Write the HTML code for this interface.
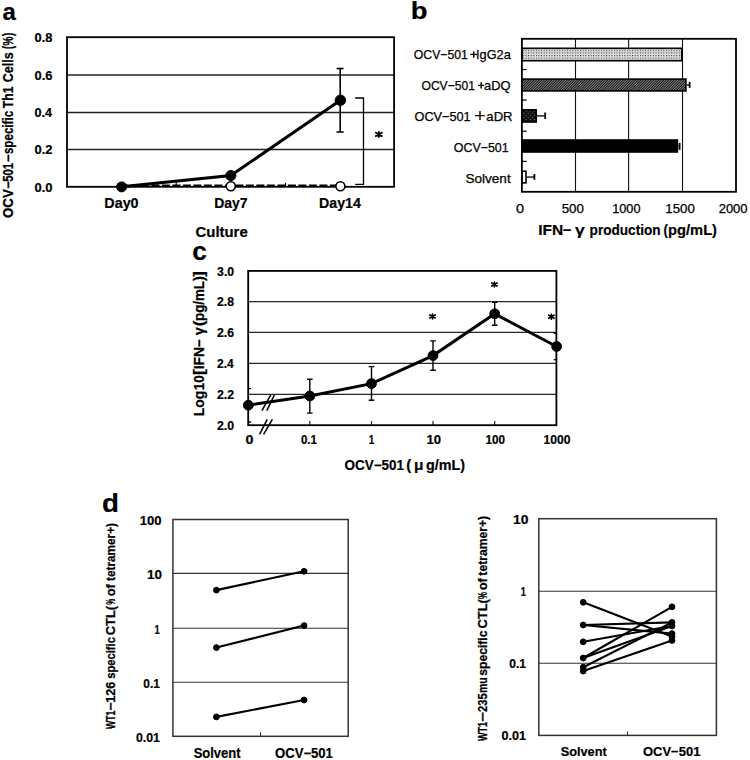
<!DOCTYPE html>
<html><head><meta charset="utf-8"><style>
html,body{margin:0;padding:0;background:#fff;}
svg{display:block;}
text{font-family:"Liberation Sans", sans-serif;fill:#000;font-kerning:none;}
</style></head><body>
<svg width="750" height="760" viewBox="0 0 750 760">
<rect width="750" height="760" fill="#fff"/>
<text x="2.50" y="19.75" font-size="24.8" font-weight="bold" textLength="13.35" lengthAdjust="spacingAndGlyphs" stroke="#000" stroke-width="0.2">a</text>
<line x1="67" y1="75.0" x2="394.1" y2="75.0" stroke="#222" stroke-width="1.4" />
<line x1="67" y1="112.5" x2="394.1" y2="112.5" stroke="#222" stroke-width="1.4" />
<line x1="67" y1="149.5" x2="394.1" y2="149.5" stroke="#222" stroke-width="1.4" />
<text x="34.49" y="41.90" font-size="12" font-weight="bold" textLength="17.91" lengthAdjust="spacingAndGlyphs" stroke="#000" stroke-width="0.2">0.8</text>
<text x="34.49" y="79.50" font-size="12" font-weight="bold" textLength="17.98" lengthAdjust="spacingAndGlyphs" stroke="#000" stroke-width="0.2">0.6</text>
<text x="34.50" y="117.00" font-size="12" font-weight="bold" textLength="17.57" lengthAdjust="spacingAndGlyphs" stroke="#000" stroke-width="0.2">0.4</text>
<text x="34.49" y="154.40" font-size="12" font-weight="bold" textLength="18.03" lengthAdjust="spacingAndGlyphs" stroke="#000" stroke-width="0.2">0.2</text>
<text x="34.49" y="191.50" font-size="12" font-weight="bold" textLength="18.05" lengthAdjust="spacingAndGlyphs" stroke="#000" stroke-width="0.2">0.0</text>
<text transform="translate(13.00,217.94) rotate(-90)" x="0" y="0" font-size="13.8" font-weight="bold" textLength="28.73" lengthAdjust="spacingAndGlyphs" stroke="#000" stroke-width="0.25">OCV</text>
<text transform="translate(13.00,189.04) rotate(-90)" x="0" y="0" font-size="13.8" font-weight="bold" textLength="7.57" lengthAdjust="spacingAndGlyphs" stroke="#000" stroke-width="0.25">−</text>
<text transform="translate(13.00,181.85) rotate(-90)" x="0" y="0" font-size="13.8" font-weight="bold" textLength="19.07" lengthAdjust="spacingAndGlyphs" stroke="#000" stroke-width="0.25">501</text>
<text transform="translate(13.00,162.15) rotate(-90)" x="0" y="0" font-size="13.8" font-weight="bold" textLength="7.80" lengthAdjust="spacingAndGlyphs" stroke="#000" stroke-width="0.25">−</text>
<text transform="translate(13.00,154.11) rotate(-90)" x="0" y="0" font-size="13.8" font-weight="bold" textLength="43.25" lengthAdjust="spacingAndGlyphs" stroke="#000" stroke-width="0.25">specific</text>
<text transform="translate(13.00,108.14) rotate(-90)" x="0" y="0" font-size="13.8" font-weight="bold" textLength="21.78" lengthAdjust="spacingAndGlyphs" stroke="#000" stroke-width="0.25">Th1</text>
<text transform="translate(13.00,82.21) rotate(-90)" x="0" y="0" font-size="13.8" font-weight="bold" textLength="29.82" lengthAdjust="spacingAndGlyphs" stroke="#000" stroke-width="0.25">Cells</text>
<text transform="translate(13.00,48.98) rotate(-90)" x="0" y="0" font-size="13.8" font-weight="bold" textLength="3.19" lengthAdjust="spacingAndGlyphs" stroke="#000" stroke-width="0.25">(</text>
<text transform="translate(13.00,45.66) rotate(-90)" x="0" y="0" font-size="13.8" font-weight="bold" textLength="9.23" lengthAdjust="spacingAndGlyphs" stroke="#000" stroke-width="0.25">%</text>
<text transform="translate(13.00,35.91) rotate(-90)" x="0" y="0" font-size="13.8" font-weight="bold" textLength="3.19" lengthAdjust="spacingAndGlyphs" stroke="#000" stroke-width="0.25">)</text>
<text x="104.34" y="207.90" font-size="14" font-weight="bold" textLength="34.25" lengthAdjust="spacingAndGlyphs" stroke="#000" stroke-width="0.2">Day0</text>
<text x="214.27" y="207.90" font-size="14" font-weight="bold" textLength="33.35" lengthAdjust="spacingAndGlyphs" stroke="#000" stroke-width="0.2">Day7</text>
<text x="319.05" y="207.90" font-size="14" font-weight="bold" textLength="41.72" lengthAdjust="spacingAndGlyphs" stroke="#000" stroke-width="0.2">Day14</text>
<text x="195.59" y="236.50" font-size="14" font-weight="bold" textLength="52.12" lengthAdjust="spacingAndGlyphs" stroke="#000" stroke-width="0.2">Culture</text>
<line x1="176.2" y1="186.8" x2="176.2" y2="182.8" stroke="#000" stroke-width="1.2" />
<line x1="285.5" y1="186.8" x2="285.5" y2="182.8" stroke="#000" stroke-width="1.2" />
<line x1="121.6" y1="185.6" x2="340.4" y2="185.6" stroke="#000" stroke-width="2.2" stroke-dasharray="8,2.5" stroke-dashoffset="1.7"/>
<rect x="67" y="37.2" width="327.1" height="149.60000000000002" fill="none" stroke="#000" stroke-width="1.8" />
<line x1="340.2" y1="68.5" x2="340.2" y2="132" stroke="#000" stroke-width="1.6" />
<line x1="336.6" y1="68.5" x2="343.6" y2="68.5" stroke="#000" stroke-width="1.6" />
<line x1="336.6" y1="132" x2="343.6" y2="132" stroke="#000" stroke-width="1.6" />
<polyline points="121.6,186.8 230.8,175.6 340.4,100.2" fill="none" stroke="#000" stroke-width="3"/>
<circle cx="121.6" cy="186.9" r="5.0" fill="#000" stroke="#000" stroke-width="1"/>
<circle cx="230.8" cy="186.2" r="4.5" fill="#fff" stroke="#000" stroke-width="1.6"/>
<circle cx="340.4" cy="186.2" r="4.5" fill="#fff" stroke="#000" stroke-width="1.6"/>
<circle cx="230.8" cy="175.6" r="5.1" fill="#000" stroke="#000" stroke-width="1"/>
<circle cx="340.4" cy="100.2" r="5.2" fill="#000" stroke="#000" stroke-width="1"/>
<polyline points="355.2,98 363.5,98 363.5,184.3 355.2,184.3" fill="none" stroke="#000" stroke-width="1.3"/>
<path d="M378.85,131.95V136.95M375.85,132.79L381.85,136.11M375.85,136.11L381.85,132.79" stroke="#000" stroke-width="1.9" stroke-linecap="round" fill="none"/>
<text x="410.69" y="19.15" font-size="24.1" font-weight="bold" textLength="16.73" lengthAdjust="spacingAndGlyphs" stroke="#000" stroke-width="0.2">b</text>
<line x1="575.5" y1="38.8" x2="575.5" y2="191.8" stroke="#111" stroke-width="1.1" />
<line x1="628.6" y1="38.8" x2="628.6" y2="191.8" stroke="#111" stroke-width="1.1" />
<line x1="682.5" y1="38.8" x2="682.5" y2="191.8" stroke="#111" stroke-width="1.1" />
<defs>
<pattern id="dots" width="2.6" height="2.6" patternUnits="userSpaceOnUse" x="0.3" y="0.4"><rect width="2.6" height="2.6" fill="#ececec"/><rect width="1.1" height="1.1" fill="#333"/><rect x="1.3" y="1.3" width="1" height="1" fill="#aaa"/></pattern>
<pattern id="hatch" width="1.8" height="1.8" patternUnits="userSpaceOnUse" patternTransform="rotate(45)"><rect width="1.8" height="1.8" fill="#999"/><rect width="1.05" height="1.8" fill="#111"/></pattern>
<pattern id="xhatch" width="3" height="3" patternUnits="userSpaceOnUse" patternTransform="rotate(45)"><rect width="3" height="3" fill="#111"/><rect width="1" height="1" fill="#777"/></pattern>
</defs>
<rect x="521.9" y="48.3" width="159.90000000000003" height="12.4" fill="url(#dots)" stroke="#000" stroke-width="1.6" />
<line x1="686.7" y1="85.0" x2="689.6" y2="85.0" stroke="#000" stroke-width="1.3" />
<line x1="689.6" y1="81.8" x2="689.6" y2="87.8" stroke="#000" stroke-width="1.8" />
<rect x="521.9" y="79.1" width="164.00000000000006" height="11.800000000000006" fill="url(#hatch)" stroke="#000" stroke-width="1.6" />
<line x1="537" y1="115.9" x2="545.2" y2="115.9" stroke="#000" stroke-width="1.3" />
<line x1="545.2" y1="112.5" x2="545.2" y2="118.9" stroke="#000" stroke-width="1.8" />
<rect x="521.9" y="109.8" width="14.300000000000022" height="12.199999999999998" fill="url(#xhatch)" stroke="#000" stroke-width="1.6" />
<line x1="678.2" y1="146.0" x2="679.6" y2="146.0" stroke="#000" stroke-width="1.3" />
<line x1="679.6" y1="142.9" x2="679.6" y2="149.8" stroke="#000" stroke-width="1.8" />
<rect x="521.9" y="140.0" width="155.50000000000006" height="12.000000000000023" fill="#000" stroke="#000" stroke-width="1.6" />
<line x1="526.8" y1="177.05" x2="534.4" y2="177.05" stroke="#000" stroke-width="1.3" />
<line x1="534.4" y1="174" x2="534.4" y2="179.8" stroke="#000" stroke-width="1.8" />
<rect x="521.9" y="171.20000000000002" width="4.099999999999977" height="11.699999999999983" fill="#fff" stroke="#000" stroke-width="1.6" />
<text x="413.82" y="59.40" font-size="12.8" font-weight="normal" textLength="53.97" lengthAdjust="spacingAndGlyphs" stroke="#000" stroke-width="0.25">OCV−501</text>
<text x="476.02" y="59.40" font-size="12.8" font-weight="normal" textLength="34.78" lengthAdjust="spacingAndGlyphs" stroke="#000" stroke-width="0.25">IgG2a</text>
<line x1="470.2" y1="54.4" x2="477" y2="54.4" stroke="#000" stroke-width="1.3" />
<line x1="473.7" y1="51.3" x2="473.7" y2="57.7" stroke="#000" stroke-width="1.5" />
<text x="421.53" y="90.40" font-size="12.8" font-weight="normal" textLength="53.36" lengthAdjust="spacingAndGlyphs" stroke="#000" stroke-width="0.25">OCV−501</text>
<text x="484.05" y="90.40" font-size="12.8" font-weight="normal" textLength="26.46" lengthAdjust="spacingAndGlyphs" stroke="#000" stroke-width="0.25">aDQ</text>
<line x1="478" y1="85.4" x2="484.1" y2="85.4" stroke="#000" stroke-width="1.3" />
<line x1="481.2" y1="82.2" x2="481.2" y2="88.6" stroke="#000" stroke-width="1.5" />
<text x="414.50" y="120.70" font-size="12.8" font-weight="normal" textLength="56.12" lengthAdjust="spacingAndGlyphs" stroke="#000" stroke-width="0.25">OCV−501</text>
<text x="486.34" y="120.70" font-size="12.8" font-weight="normal" textLength="26.27" lengthAdjust="spacingAndGlyphs" stroke="#000" stroke-width="0.25">aDR</text>
<line x1="475" y1="115.6" x2="484.7" y2="115.6" stroke="#000" stroke-width="1.3" />
<line x1="480" y1="111.1" x2="480" y2="119.9" stroke="#000" stroke-width="1.4" />
<text x="453.81" y="151.90" font-size="12.8" font-weight="normal" textLength="54.79" lengthAdjust="spacingAndGlyphs" stroke="#000" stroke-width="0.25">OCV−501</text>
<text x="465.48" y="182.50" font-size="12.8" font-weight="normal" textLength="45.21" lengthAdjust="spacingAndGlyphs" stroke="#000" stroke-width="0.25">Solvent</text>
<rect x="521.9" y="38.8" width="214.10000000000002" height="153.0" fill="none" stroke="#000" stroke-width="1.8" />
<line x1="521.9" y1="69.5" x2="526.6999999999999" y2="69.5" stroke="#000" stroke-width="1.2" />
<line x1="521.9" y1="100.1" x2="526.6999999999999" y2="100.1" stroke="#000" stroke-width="1.2" />
<line x1="521.9" y1="131.2" x2="526.6999999999999" y2="131.2" stroke="#000" stroke-width="1.2" />
<line x1="521.9" y1="161.4" x2="526.6999999999999" y2="161.4" stroke="#000" stroke-width="1.2" />
<text x="515.94" y="212.60" font-size="12.2" font-weight="normal" textLength="8.03" lengthAdjust="spacingAndGlyphs" stroke="#000" stroke-width="0.25">0</text>
<text x="561.67" y="212.60" font-size="12.2" font-weight="normal" textLength="22.15" lengthAdjust="spacingAndGlyphs" stroke="#000" stroke-width="0.25">500</text>
<text x="612.23" y="212.60" font-size="12.2" font-weight="normal" textLength="28.26" lengthAdjust="spacingAndGlyphs" stroke="#000" stroke-width="0.25">1000</text>
<text x="665.29" y="212.60" font-size="12.2" font-weight="normal" textLength="29.53" lengthAdjust="spacingAndGlyphs" stroke="#000" stroke-width="0.25">1500</text>
<text x="718.65" y="212.60" font-size="12.2" font-weight="normal" textLength="28.96" lengthAdjust="spacingAndGlyphs" stroke="#000" stroke-width="0.25">2000</text>
<text x="538.26" y="234.90" font-size="14.8" font-weight="bold" textLength="24.98" lengthAdjust="spacingAndGlyphs" stroke="#000" stroke-width="0.2">IFN</text>
<text x="562.69" y="234.90" font-size="14.8" font-weight="bold" textLength="8.62" lengthAdjust="spacingAndGlyphs" stroke="#000" stroke-width="0.2">−</text>
<text x="574.93" y="234.90" font-size="14.8" font-weight="bold" textLength="9.74" lengthAdjust="spacingAndGlyphs" stroke="#000" stroke-width="0.2">γ</text>
<text x="589.60" y="234.90" font-size="14.8" font-weight="bold" textLength="70.94" lengthAdjust="spacingAndGlyphs" stroke="#000" stroke-width="0.2">production</text>
<text x="663.55" y="234.90" font-size="14.8" font-weight="bold" textLength="4.37" lengthAdjust="spacingAndGlyphs" stroke="#000" stroke-width="0.2">(</text>
<text x="668.03" y="234.90" font-size="14.8" font-weight="bold" textLength="49.00" lengthAdjust="spacingAndGlyphs" stroke="#000" stroke-width="0.2">pg/mL)</text>
<text x="192.37" y="259.75" font-size="25.5" font-weight="bold" textLength="14.59" lengthAdjust="spacingAndGlyphs" stroke="#000" stroke-width="0.2">c</text>
<line x1="248.2" y1="301.6" x2="556.4" y2="301.6" stroke="#262626" stroke-width="1.3" />
<line x1="248.2" y1="332.4" x2="556.4" y2="332.4" stroke="#262626" stroke-width="1.3" />
<line x1="248.2" y1="363.4" x2="556.4" y2="363.4" stroke="#262626" stroke-width="1.3" />
<line x1="248.2" y1="394.4" x2="556.4" y2="394.4" stroke="#262626" stroke-width="1.3" />
<text x="217.12" y="275.70" font-size="12.2" font-weight="bold" textLength="16.98" lengthAdjust="spacingAndGlyphs" stroke="#000" stroke-width="0.2">3.0</text>
<text x="216.98" y="306.40" font-size="12.2" font-weight="bold" textLength="17.00" lengthAdjust="spacingAndGlyphs" stroke="#000" stroke-width="0.2">2.8</text>
<text x="216.97" y="337.30" font-size="12.2" font-weight="bold" textLength="17.07" lengthAdjust="spacingAndGlyphs" stroke="#000" stroke-width="0.2">2.6</text>
<text x="216.98" y="368.20" font-size="12.2" font-weight="bold" textLength="16.68" lengthAdjust="spacingAndGlyphs" stroke="#000" stroke-width="0.2">2.4</text>
<text x="216.97" y="399.20" font-size="12.2" font-weight="bold" textLength="17.12" lengthAdjust="spacingAndGlyphs" stroke="#000" stroke-width="0.2">2.2</text>
<text x="216.97" y="430.00" font-size="12.2" font-weight="bold" textLength="17.13" lengthAdjust="spacingAndGlyphs" stroke="#000" stroke-width="0.2">2.0</text>
<text transform="translate(203.60,416.23) rotate(-90)" x="0" y="0" font-size="14.3" font-weight="bold" textLength="25.57" lengthAdjust="spacingAndGlyphs" stroke="#000" stroke-width="0.25">Log</text>
<text transform="translate(203.60,390.24) rotate(-90)" x="0" y="0" font-size="14.3" font-weight="bold" textLength="14.89" lengthAdjust="spacingAndGlyphs" stroke="#000" stroke-width="0.25">10</text>
<text transform="translate(203.60,374.90) rotate(-90)" x="0" y="0" font-size="14.3" font-weight="bold" textLength="5.91" lengthAdjust="spacingAndGlyphs" stroke="#000" stroke-width="0.25">[</text>
<text transform="translate(203.60,369.33) rotate(-90)" x="0" y="0" font-size="14.3" font-weight="bold" textLength="22.36" lengthAdjust="spacingAndGlyphs" stroke="#000" stroke-width="0.25">IFN</text>
<text transform="translate(203.60,347.15) rotate(-90)" x="0" y="0" font-size="14.3" font-weight="bold" textLength="7.80" lengthAdjust="spacingAndGlyphs" stroke="#000" stroke-width="0.25">−</text>
<text transform="translate(203.60,335.16) rotate(-90)" x="0" y="0" font-size="14.3" font-weight="bold" textLength="8.01" lengthAdjust="spacingAndGlyphs" stroke="#000" stroke-width="0.25">γ</text>
<text transform="translate(203.60,326.15) rotate(-90)" x="0" y="0" font-size="14.3" font-weight="bold" textLength="5.66" lengthAdjust="spacingAndGlyphs" stroke="#000" stroke-width="0.25">(</text>
<text transform="translate(203.60,320.98) rotate(-90)" x="0" y="0" font-size="14.3" font-weight="bold" textLength="39.99" lengthAdjust="spacingAndGlyphs" stroke="#000" stroke-width="0.25">pg/mL</text>
<text transform="translate(203.60,281.01) rotate(-90)" x="0" y="0" font-size="14.3" font-weight="bold" textLength="4.96" lengthAdjust="spacingAndGlyphs" stroke="#000" stroke-width="0.25">)</text>
<text transform="translate(203.60,276.81) rotate(-90)" x="0" y="0" font-size="14.3" font-weight="bold" textLength="5.66" lengthAdjust="spacingAndGlyphs" stroke="#000" stroke-width="0.25">]</text>
<clipPath id="clipc"><rect x="248.2" y="270.9" width="308.2" height="154.3"/></clipPath><g clip-path="url(#clipc)">
<line x1="248.3" y1="388.6" x2="248.3" y2="422" stroke="#000" stroke-width="1.4" />
<line x1="245.5" y1="388.6" x2="251.10000000000002" y2="388.6" stroke="#000" stroke-width="1.4" />
<line x1="245.5" y1="422" x2="251.10000000000002" y2="422" stroke="#000" stroke-width="1.4" />
<line x1="309.8" y1="379.2" x2="309.8" y2="413.1" stroke="#000" stroke-width="1.4" />
<line x1="307.0" y1="379.2" x2="312.6" y2="379.2" stroke="#000" stroke-width="1.4" />
<line x1="307.0" y1="413.1" x2="312.6" y2="413.1" stroke="#000" stroke-width="1.4" />
<line x1="371.5" y1="366.6" x2="371.5" y2="400.2" stroke="#000" stroke-width="1.4" />
<line x1="368.7" y1="366.6" x2="374.3" y2="366.6" stroke="#000" stroke-width="1.4" />
<line x1="368.7" y1="400.2" x2="374.3" y2="400.2" stroke="#000" stroke-width="1.4" />
<line x1="433" y1="340.9" x2="433" y2="370.3" stroke="#000" stroke-width="1.4" />
<line x1="430.2" y1="340.9" x2="435.8" y2="340.9" stroke="#000" stroke-width="1.4" />
<line x1="430.2" y1="370.3" x2="435.8" y2="370.3" stroke="#000" stroke-width="1.4" />
<line x1="494.7" y1="302.4" x2="494.7" y2="325.3" stroke="#000" stroke-width="1.4" />
<line x1="491.9" y1="302.4" x2="497.5" y2="302.4" stroke="#000" stroke-width="1.4" />
<line x1="491.9" y1="325.3" x2="497.5" y2="325.3" stroke="#000" stroke-width="1.4" />
<line x1="556.6" y1="333.3" x2="556.6" y2="359.6" stroke="#000" stroke-width="1.4" />
<line x1="553.8000000000001" y1="333.3" x2="559.4" y2="333.3" stroke="#000" stroke-width="1.4" />
<line x1="553.8000000000001" y1="359.6" x2="559.4" y2="359.6" stroke="#000" stroke-width="1.4" />
</g>
<line x1="309.8" y1="425.2" x2="309.8" y2="421.0" stroke="#333" stroke-width="1.3" />
<line x1="371.5" y1="425.2" x2="371.5" y2="421.0" stroke="#333" stroke-width="1.3" />
<line x1="433" y1="425.2" x2="433" y2="421.0" stroke="#333" stroke-width="1.3" />
<line x1="494.7" y1="425.2" x2="494.7" y2="421.0" stroke="#333" stroke-width="1.3" />
<rect x="248.2" y="270.9" width="308.2" height="154.3" fill="none" stroke="#000" stroke-width="1.8" />
<polyline points="248.3,405.2 309.8,396 371.5,383.6 433,355.6 494.7,313.8 556.6,346.5" fill="none" stroke="#000" stroke-width="3"/>
<circle cx="248.3" cy="405.2" r="4.9" fill="#000" stroke="#000" stroke-width="1"/>
<circle cx="309.8" cy="396" r="4.9" fill="#000" stroke="#000" stroke-width="1"/>
<circle cx="371.5" cy="383.6" r="4.9" fill="#000" stroke="#000" stroke-width="1"/>
<circle cx="433" cy="355.6" r="4.9" fill="#000" stroke="#000" stroke-width="1"/>
<circle cx="494.7" cy="313.8" r="4.9" fill="#000" stroke="#000" stroke-width="1"/>
<circle cx="556.6" cy="346.5" r="4.9" fill="#000" stroke="#000" stroke-width="1"/>
<text x="245.43" y="444.40" font-size="12" font-weight="bold" textLength="7.95" lengthAdjust="spacingAndGlyphs" stroke="#000" stroke-width="0.2">0</text>
<text x="300.95" y="444.40" font-size="12" font-weight="bold" textLength="15.97" lengthAdjust="spacingAndGlyphs" stroke="#000" stroke-width="0.2">0.1</text>
<text x="368.78" y="444.40" font-size="12" font-weight="bold" textLength="5.50" lengthAdjust="spacingAndGlyphs" stroke="#000" stroke-width="0.2">1</text>
<text x="426.58" y="444.40" font-size="12" font-weight="bold" textLength="14.56" lengthAdjust="spacingAndGlyphs" stroke="#000" stroke-width="0.2">10</text>
<text x="485.56" y="444.40" font-size="12" font-weight="bold" textLength="19.52" lengthAdjust="spacingAndGlyphs" stroke="#000" stroke-width="0.2">100</text>
<text x="543.54" y="444.40" font-size="12" font-weight="bold" textLength="26.86" lengthAdjust="spacingAndGlyphs" stroke="#000" stroke-width="0.2">1000</text>
<path d="M432.50,314.15V318.85M429.85,314.96L435.15,318.04M429.85,318.04L435.15,314.96" stroke="#000" stroke-width="1.7" stroke-linecap="round" fill="none"/>
<path d="M494.40,282.15V286.85M491.75,282.96L497.05,286.04M491.75,286.04L497.05,282.96" stroke="#000" stroke-width="1.7" stroke-linecap="round" fill="none"/>
<path d="M551.40,314.45V319.15M548.75,315.26L554.05,318.34M548.75,318.34L554.05,315.26" stroke="#000" stroke-width="1.7" stroke-linecap="round" fill="none"/>
<line x1="261.9" y1="410.7" x2="270.8" y2="394.9" stroke="#000" stroke-width="1.5" />
<line x1="266.8" y1="410.7" x2="274.4" y2="394.9" stroke="#000" stroke-width="1.5" />
<line x1="259.6" y1="434.4" x2="267.2" y2="419.3" stroke="#000" stroke-width="1.5" />
<line x1="263.6" y1="434.4" x2="272.4" y2="419.3" stroke="#000" stroke-width="1.5" />
<text x="344.55" y="470.20" font-size="14" font-weight="bold" textLength="59.32" lengthAdjust="spacingAndGlyphs" stroke="#000" stroke-width="0.2">OCV−501</text>
<text x="406.26" y="470.20" font-size="14" font-weight="bold" textLength="4.96" lengthAdjust="spacingAndGlyphs" stroke="#000" stroke-width="0.2">(</text>
<text x="413.90" y="470.20" font-size="14" font-weight="bold" textLength="9.53" lengthAdjust="spacingAndGlyphs" stroke="#000" stroke-width="0.2">μ</text>
<text x="426.01" y="470.20" font-size="14" font-weight="bold" textLength="39.10" lengthAdjust="spacingAndGlyphs" stroke="#000" stroke-width="0.2">g/mL)</text>
<text x="101.96" y="511.55" font-size="25.4" font-weight="bold" textLength="16.97" lengthAdjust="spacingAndGlyphs" stroke="#000" stroke-width="0.2">d</text>
<line x1="172.9" y1="573.4" x2="348.2" y2="573.4" stroke="#333" stroke-width="1.1" />
<line x1="172.9" y1="628.3" x2="348.2" y2="628.3" stroke="#333" stroke-width="1.1" />
<line x1="172.9" y1="682.3" x2="348.2" y2="682.3" stroke="#333" stroke-width="1.1" />
<rect x="172.9" y="519.5" width="175.29999999999998" height="216.79999999999995" fill="none" stroke="#333" stroke-width="1.5" />
<line x1="260.55" y1="736.3" x2="260.55" y2="732.3" stroke="#333" stroke-width="1.1" />
<text x="139.67" y="524.50" font-size="12.7" font-weight="bold" textLength="21.86" lengthAdjust="spacingAndGlyphs" stroke="#000" stroke-width="0.2">100</text>
<text x="147.05" y="578.70" font-size="12.7" font-weight="bold" textLength="15.00" lengthAdjust="spacingAndGlyphs" stroke="#000" stroke-width="0.2">10</text>
<text x="154.40" y="633.60" font-size="12.7" font-weight="bold" textLength="5.26" lengthAdjust="spacingAndGlyphs" stroke="#000" stroke-width="0.2">1</text>
<text x="143.33" y="687.60" font-size="12.7" font-weight="bold" textLength="16.60" lengthAdjust="spacingAndGlyphs" stroke="#000" stroke-width="0.2">0.1</text>
<text x="135.91" y="741.60" font-size="12.7" font-weight="bold" textLength="24.03" lengthAdjust="spacingAndGlyphs" stroke="#000" stroke-width="0.2">0.01</text>
<text transform="translate(115.00,729.11) rotate(-90)" x="0" y="0" font-size="12.8" font-weight="bold" textLength="18.55" lengthAdjust="spacingAndGlyphs" stroke="#000" stroke-width="0.25">WT1</text>
<text transform="translate(115.00,710.48) rotate(-90)" x="0" y="0" font-size="12.8" font-weight="bold" textLength="8.15" lengthAdjust="spacingAndGlyphs" stroke="#000" stroke-width="0.25">−</text>
<text transform="translate(115.00,702.79) rotate(-90)" x="0" y="0" font-size="12.8" font-weight="bold" textLength="21.05" lengthAdjust="spacingAndGlyphs" stroke="#000" stroke-width="0.25">126</text>
<text transform="translate(115.00,678.79) rotate(-90)" x="0" y="0" font-size="12.8" font-weight="bold" textLength="41.72" lengthAdjust="spacingAndGlyphs" stroke="#000" stroke-width="0.25">specific</text>
<text transform="translate(115.00,635.23) rotate(-90)" x="0" y="0" font-size="12.8" font-weight="bold" textLength="29.24" lengthAdjust="spacingAndGlyphs" stroke="#000" stroke-width="0.25">CTL(</text>
<text transform="translate(115.00,604.86) rotate(-90)" x="0" y="0" font-size="12.8" font-weight="bold" textLength="5.84" lengthAdjust="spacingAndGlyphs" stroke="#000" stroke-width="0.25">%</text>
<text transform="translate(115.00,596.30) rotate(-90)" x="0" y="0" font-size="12.8" font-weight="bold" textLength="12.07" lengthAdjust="spacingAndGlyphs" stroke="#000" stroke-width="0.25">of</text>
<text transform="translate(115.00,580.94) rotate(-90)" x="0" y="0" font-size="12.8" font-weight="bold" textLength="57.93" lengthAdjust="spacingAndGlyphs" stroke="#000" stroke-width="0.25">tetramer+)</text>
<line x1="216.4" y1="590.1" x2="304.1" y2="571.3" stroke="#000" stroke-width="2.1" />
<circle cx="216.4" cy="590.1" r="2.9" fill="#000" stroke="#000" stroke-width="1"/>
<circle cx="304.1" cy="571.3" r="2.9" fill="#000" stroke="#000" stroke-width="1"/>
<line x1="216.4" y1="647.6" x2="304.1" y2="625.6" stroke="#000" stroke-width="2.1" />
<circle cx="216.4" cy="647.6" r="2.9" fill="#000" stroke="#000" stroke-width="1"/>
<circle cx="304.1" cy="625.6" r="2.9" fill="#000" stroke="#000" stroke-width="1"/>
<line x1="216.4" y1="716.9" x2="304.1" y2="700" stroke="#000" stroke-width="2.1" />
<circle cx="216.4" cy="716.9" r="2.9" fill="#000" stroke="#000" stroke-width="1"/>
<circle cx="304.1" cy="700" r="2.9" fill="#000" stroke="#000" stroke-width="1"/>
<text x="193.63" y="757.60" font-size="14" font-weight="bold" textLength="46.93" lengthAdjust="spacingAndGlyphs" stroke="#000" stroke-width="0.2">Solvent</text>
<text x="275.06" y="757.60" font-size="14" font-weight="bold" textLength="57.80" lengthAdjust="spacingAndGlyphs" stroke="#000" stroke-width="0.2">OCV−501</text>
<line x1="538.8" y1="591.3" x2="716.4" y2="591.3" stroke="#333" stroke-width="1.1" />
<line x1="538.8" y1="663.3" x2="716.4" y2="663.3" stroke="#333" stroke-width="1.1" />
<rect x="538.8" y="518.7" width="177.60000000000002" height="216.69999999999993" fill="none" stroke="#333" stroke-width="1.5" />
<line x1="627.6" y1="735.4" x2="627.6" y2="731.4" stroke="#333" stroke-width="1.1" />
<text x="512.93" y="523.70" font-size="12.4" font-weight="bold" textLength="15.44" lengthAdjust="spacingAndGlyphs" stroke="#000" stroke-width="0.2">10</text>
<text x="520.72" y="596.20" font-size="12.4" font-weight="bold" textLength="5.14" lengthAdjust="spacingAndGlyphs" stroke="#000" stroke-width="0.2">1</text>
<text x="509.32" y="668.20" font-size="12.4" font-weight="bold" textLength="16.71" lengthAdjust="spacingAndGlyphs" stroke="#000" stroke-width="0.2">0.1</text>
<text x="501.60" y="740.30" font-size="12.4" font-weight="bold" textLength="24.45" lengthAdjust="spacingAndGlyphs" stroke="#000" stroke-width="0.2">0.01</text>
<text transform="translate(487.40,741.11) rotate(-90)" x="0" y="0" font-size="12.6" font-weight="bold" textLength="19.26" lengthAdjust="spacingAndGlyphs" stroke="#000" stroke-width="0.25">WT1</text>
<text transform="translate(487.40,721.70) rotate(-90)" x="0" y="0" font-size="12.6" font-weight="bold" textLength="9.78" lengthAdjust="spacingAndGlyphs" stroke="#000" stroke-width="0.25">−</text>
<text transform="translate(487.40,711.89) rotate(-90)" x="0" y="0" font-size="12.6" font-weight="bold" textLength="18.60" lengthAdjust="spacingAndGlyphs" stroke="#000" stroke-width="0.25">235</text>
<text transform="translate(487.40,693.10) rotate(-90)" x="0" y="0" font-size="12.6" font-weight="bold" textLength="15.90" lengthAdjust="spacingAndGlyphs" stroke="#000" stroke-width="0.25">mu</text>
<text transform="translate(487.40,675.73) rotate(-90)" x="0" y="0" font-size="12.6" font-weight="bold" textLength="45.18" lengthAdjust="spacingAndGlyphs" stroke="#000" stroke-width="0.25">specific</text>
<text transform="translate(487.40,628.43) rotate(-90)" x="0" y="0" font-size="12.6" font-weight="bold" textLength="29.24" lengthAdjust="spacingAndGlyphs" stroke="#000" stroke-width="0.25">CTL(</text>
<text transform="translate(487.40,598.90) rotate(-90)" x="0" y="0" font-size="12.6" font-weight="bold" textLength="7.00" lengthAdjust="spacingAndGlyphs" stroke="#000" stroke-width="0.25">%</text>
<text transform="translate(487.40,589.99) rotate(-90)" x="0" y="0" font-size="12.6" font-weight="bold" textLength="11.76" lengthAdjust="spacingAndGlyphs" stroke="#000" stroke-width="0.25">of</text>
<text transform="translate(487.40,575.65) rotate(-90)" x="0" y="0" font-size="12.6" font-weight="bold" textLength="59.75" lengthAdjust="spacingAndGlyphs" stroke="#000" stroke-width="0.25">tetramer+)</text>
<line x1="583.2" y1="602.3" x2="672" y2="636.4" stroke="#000" stroke-width="2.1" />
<line x1="583.2" y1="625" x2="672" y2="622.4" stroke="#000" stroke-width="2.1" />
<line x1="583.2" y1="625" x2="672" y2="633.6" stroke="#000" stroke-width="2.1" />
<line x1="583.2" y1="641.8" x2="672" y2="626" stroke="#000" stroke-width="2.1" />
<line x1="583.2" y1="658" x2="672" y2="606.8" stroke="#000" stroke-width="2.1" />
<line x1="583.2" y1="658" x2="672" y2="626" stroke="#000" stroke-width="2.1" />
<line x1="583.2" y1="667.2" x2="672" y2="622.4" stroke="#000" stroke-width="2.1" />
<line x1="583.2" y1="671.1" x2="672" y2="640.4" stroke="#000" stroke-width="2.1" />
<circle cx="583.2" cy="602.3" r="2.9" fill="#000" stroke="#000" stroke-width="1"/>
<circle cx="583.2" cy="625" r="2.9" fill="#000" stroke="#000" stroke-width="1"/>
<circle cx="583.2" cy="641.8" r="2.9" fill="#000" stroke="#000" stroke-width="1"/>
<circle cx="583.2" cy="658" r="2.9" fill="#000" stroke="#000" stroke-width="1"/>
<circle cx="583.2" cy="667.2" r="2.9" fill="#000" stroke="#000" stroke-width="1"/>
<circle cx="583.2" cy="671.1" r="2.9" fill="#000" stroke="#000" stroke-width="1"/>
<circle cx="672" cy="606.8" r="2.9" fill="#000" stroke="#000" stroke-width="1"/>
<circle cx="672" cy="622.4" r="2.9" fill="#000" stroke="#000" stroke-width="1"/>
<circle cx="672" cy="626" r="2.9" fill="#000" stroke="#000" stroke-width="1"/>
<circle cx="672" cy="633.6" r="2.9" fill="#000" stroke="#000" stroke-width="1"/>
<circle cx="672" cy="636.4" r="2.9" fill="#000" stroke="#000" stroke-width="1"/>
<circle cx="672" cy="640.4" r="2.9" fill="#000" stroke="#000" stroke-width="1"/>
<text x="560.63" y="756.00" font-size="13.6" font-weight="bold" textLength="46.12" lengthAdjust="spacingAndGlyphs" stroke="#000" stroke-width="0.2">Solvent</text>
<text x="642.97" y="756.00" font-size="13.6" font-weight="bold" textLength="57.39" lengthAdjust="spacingAndGlyphs" stroke="#000" stroke-width="0.2">OCV−501</text>
</svg></body></html>
